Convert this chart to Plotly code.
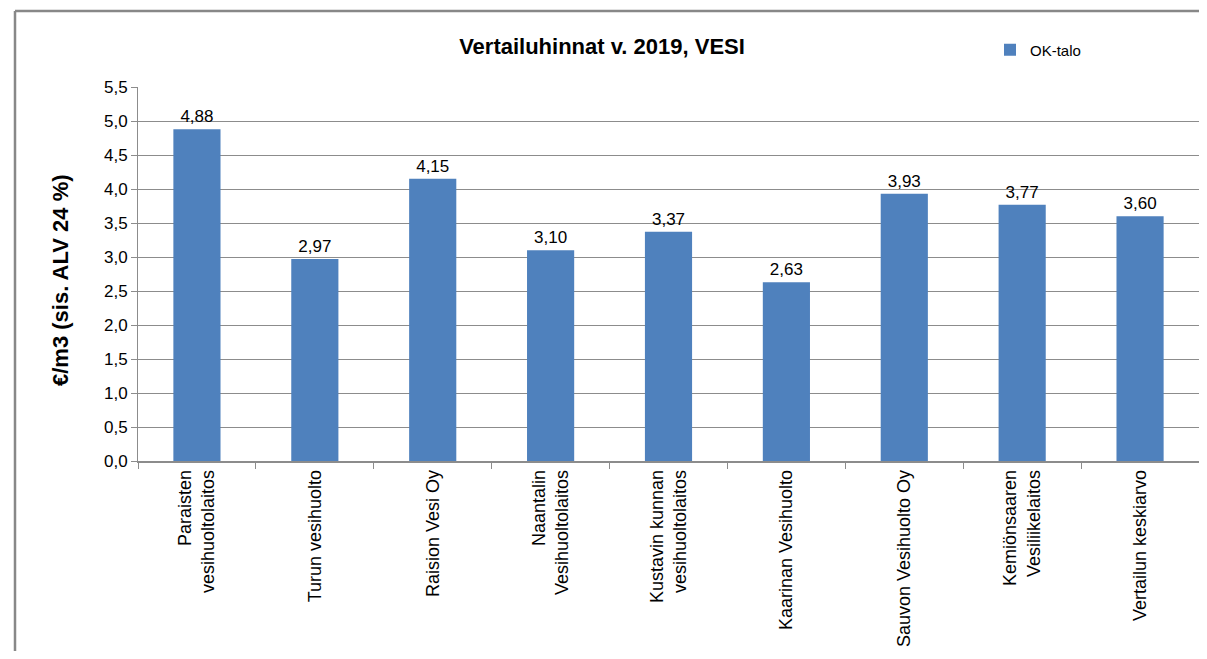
import plotly.graph_objects as go

BAR_COLOR = "#4f81bd"
GRID = "#8c8c8c"
FONT = "Liberation Sans, Arial, sans-serif"

categories = [
    "Paraisten<br>vesihuoltolaitos",
    "Turun vesihuolto",
    "Raision Vesi Oy",
    "Naantalin<br>Vesihuoltolaitos",
    "Kustavin kunnan<br>vesihuoltolaitos",
    "Kaarinan Vesihuolto",
    "Sauvon Vesihuolto Oy",
    "Kemiönsaaren<br>Vesiliikelaitos",
    "Vertailun keskiarvo",
]
prices = [4.88, 2.97, 4.15, 3.10, 3.37, 2.63, 3.93, 3.77, 3.60]
labels = [f"{v:.2f}".replace(".", ",") for v in prices]

# page body has an 8px margin on every side; keep the figure inside the
# window so no scrollbars appear
OFF = 8
W, H = 1207 - 2 * OFF, 659 - 2 * OFF
ML, MR, MT = 138 - OFF, 0, 87 - OFF
MB = H - (461 - OFF)
PW, PH = W - ML - MR, H - MT - MB


def px_x(x):
    # x in window pixels -> paper coords
    return (x - OFF - ML) / PW


def px_y(y):
    return (H - MB - (y - OFF)) / PH


fig = go.Figure()
fig.add_trace(go.Bar(
    x=categories, y=prices, name="OK-talo",
    marker=dict(color=BAR_COLOR, line=dict(width=0)),
    text=labels, textposition="outside",
    textfont=dict(size=17, color="#000000", family=FONT),
    cliponaxis=False,
))

# outer chart frame (Excel style): only top and left edges are visible
frame = dict(type="line", xref="paper", yref="paper",
             line=dict(color="#888888", width=2.5), layer="below")
fig.add_shape(x0=px_x(15), x1=px_x(1207), y0=px_y(11), y1=px_y(11), **frame)
fig.add_shape(x0=px_x(15), x1=px_x(15), y0=px_y(11), y1=px_y(659), **frame)

fig.add_annotation(
    text="<b>€/m3 (sis. ALV 24 %)</b>", textangle=-90,
    xref="paper", yref="paper", x=px_x(60), y=px_y(280),
    xanchor="center", yanchor="middle", showarrow=False,
    font=dict(size=22, family=FONT, color="#000000"),
)

fig.update_layout(
    width=W, height=H,
    margin=dict(l=ML, r=MR, t=MT, b=MB, autoexpand=False),
    paper_bgcolor="white", plot_bgcolor="white",
    separators=", ",
    font=dict(family=FONT, size=17, color="#000000"),
    title=dict(text="<b>Vertailuhinnat v. 2019, VESI</b>", x=(602 - OFF) / W, xanchor="center",
               y=1 - (46 - OFF) / H, yanchor="middle", font=dict(size=22, family=FONT)),
    showlegend=True,
    legend=dict(x=px_x(990), y=px_y(50), xanchor="left", yanchor="middle",
                font=dict(size=15, family=FONT), itemwidth=30,
                bgcolor="rgba(0,0,0,0)", tracegroupgap=0),
    bargap=0.6,
)
fig.update_yaxes(
    range=[0, 5.5], dtick=0.5, tickformat=".1f",
    showgrid=True, gridcolor=GRID, gridwidth=1,
    showline=True, linecolor=GRID, linewidth=1,
    ticks="outside", ticklen=6, tickcolor=GRID,
    tickfont=dict(size=17),
    zeroline=False,
)
fig.update_xaxes(
    showline=True, linecolor=GRID, linewidth=1.5,
    ticks="outside", tickson="boundaries", ticklen=6, tickcolor=GRID,
    tickangle=-90, tickfont=dict(size=18),
)

fig.write_html("out.html")
